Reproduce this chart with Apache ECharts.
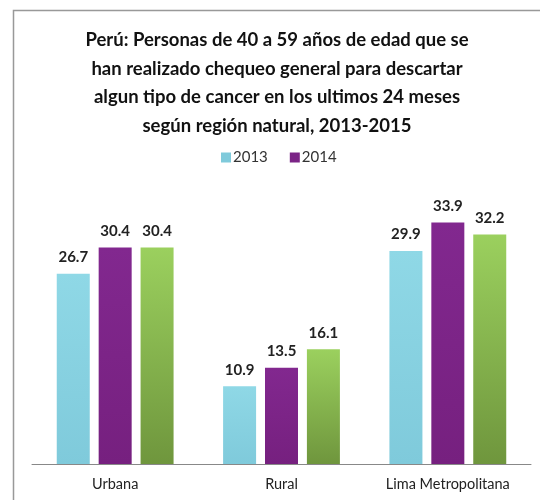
<!DOCTYPE html>
<html>
<head>
<meta charset="utf-8">
<script src="https://cdn.jsdelivr.net/npm/echarts@6/dist/echarts.min.js"></script>
<style>
  html, body { margin: 0; padding: 0; background: #fff; }
  #box { width: 540px; height: 500px; }
</style>
</head>
<body>
<div id="box"></div>
<script>
// datos
const categories = ['Urbana', 'Rural', 'Lima Metropolitana'];
const years = ['2013', '2014', '2015'];
const values2013 = [26.7, 10.9, 29.9];
const values2014 = [30.4, 13.5, 33.9];
const values2015 = [30.4, 16.1, 32.2];
const legendYears = ['2013', '2014'];

const titleText = 'Perú: Personas de 40 a 59 años de edad que se\nhan realizado chequeo general para descartar\nalgun tipo de cancer en los ultimos 24 meses\nsegún región natural, 2013-2015';

function grad(top, bottom) {
  return new echarts.graphic.LinearGradient(0, 0, 0, 1, [
    {offset: 0, color: top},
    {offset: 1, color: bottom}
  ]);
}

const colors = [
  grad('#8fd8e6', '#7fcadb'),
  grad('#82288f', '#76207f'),
  grad('#9bd05e', '#6f963d')
];
// colores solidos para la leyenda
const legendColors = ['#7fcadb', '#7b2486'];

const labelStyle = {
  show: true,
  position: 'top',
  distance: 9,
  fontFamily: 'Lato',
  fontWeight: 'bold',
  fontSize: 15,
  color: '#222'
};

let myecharts = echarts.init(document.getElementById('box'));
let option = {
  animation: false,
  backgroundColor: '#fff',
  title: {
    text: titleText,
    left: 272,
    textAlign: 'center',
    top: 21,
    textStyle: {
      fontFamily: 'Lato',
      fontWeight: 'bold',
      fontSize: 18.5,
      lineHeight: 28.5,
      color: '#111'
    }
  },
  legend: {
    data: legendYears.map((y, i) => ({name: y, itemStyle: {color: legendColors[i]}})),
    top: 145,
    left: 216,
    itemWidth: 10,
    itemHeight: 10,
    itemGap: 22,
    icon: 'rect',
    textStyle: {fontFamily: 'Lato', fontSize: 15, color: '#333', padding: [0, 0, 0, -3]}
  },
  graphic: [{
    type: 'rect',
    shape: {x: 13.5, y: 10.5, width: 560, height: 520},
    style: {fill: null, stroke: '#999', lineWidth: 1.5},
    silent: true
  }],
  grid: {
    left: 32,
    right: 9,
    top: 179,
    bottom: 36
  },
  xAxis: {
    type: 'category',
    data: categories,
    axisTick: {show: false},
    axisLine: {lineStyle: {color: '#888', width: 1}},
    axisLabel: {interval: 0, fontFamily: 'Lato', fontSize: 14.5, color: '#222', margin: 13}
  },
  yAxis: {
    type: 'value',
    min: 0,
    max: 40,
    show: false,
    splitLine: {show: false}
  },
  series: [values2013, values2014, values2015].map((d, i) => ({
    name: years[i],
    type: 'bar',
    data: d,
    barWidth: 33,
    barGap: '27%',
    itemStyle: {color: colors[i]},
    label: labelStyle
  }))
};
myecharts.setOption(option);
</script>
</body>
</html>
